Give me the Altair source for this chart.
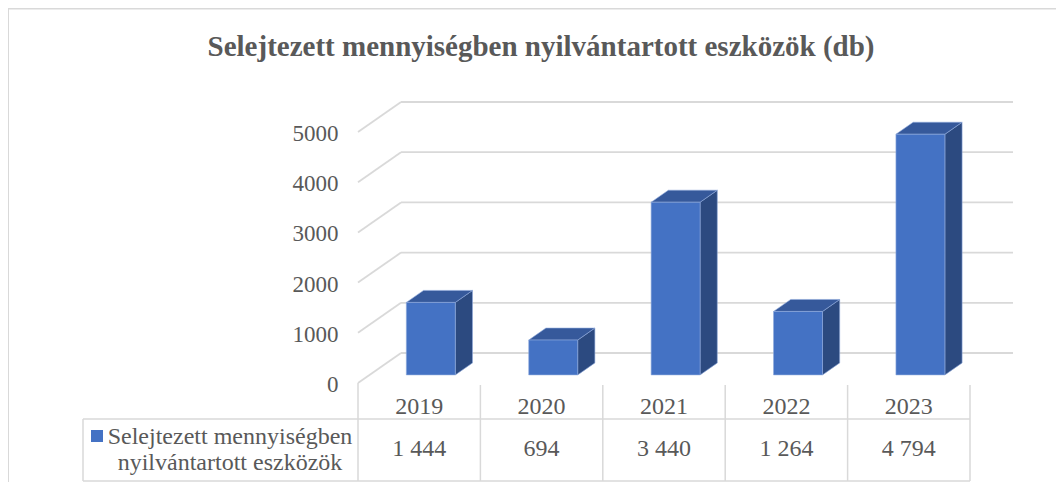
import altair as alt
import pandas as pd

# ---------------- data ----------------
years = ["2019", "2020", "2021", "2022", "2023"]
values = [1444, 694, 3440, 1264, 4794]
value_labels = ["1 444", "694", "3 440", "1 264", "4 794"]
y_ticks = [0, 1000, 2000, 3000, 4000, 5000]
series_lines = ["Selejtezett mennyiségben", "nyilvántartott eszközök"]
title_text = "Selejtezett mennyiségben nyilvántartott eszközök (db)"

# ---------------- layout / style constants ----------------
W, H = 1048, 474
PX_PER_CAT = 122.4          # pixels per category band
PX_PER_VAL = 0.0502         # pixels per value unit
X0_PX, Y0_PX = 350, 375     # chart-pixel position of front-plane origin
DU = 43 / PX_PER_CAT        # depth offset in category units
DV = 30 / PX_PER_VAL        # depth offset in value units
BAR_W = 0.4
F_FRONT, F_BACK = 0.27, 0.67

x_dom = [-X0_PX / PX_PER_CAT, (W - X0_PX) / PX_PER_CAT]
y_dom = [(Y0_PX - H) / PX_PER_VAL, Y0_PX / PX_PER_VAL]
XS = alt.Scale(domain=x_dom, range=[0, W], nice=False, zero=False)
YS = alt.Scale(domain=y_dom, range=[H, 0], nice=False, zero=False)

FONT = "Liberation Serif"
TXT = "#595959"
GRID = "#D9D9D9"
FRONT_C, TOP_C, SIDE_C = "#4472C4", "#36599B", "#2C4A80"
EDGE = "#8EA9DB"

def X(f, **kw):
    return alt.X(f, type="quantitative", scale=XS, axis=None, **kw)

def Y(f, **kw):
    return alt.Y(f, type="quantitative", scale=YS, axis=None, **kw)

# ---------------- geometry built from data ----------------
grid_rows = []
for k in y_ticks:
    grid_rows.append(dict(x=0, x2=DU, y=k, y2=k + DV))            # side wall diagonal
    grid_rows.append(dict(x=DU, x2=5 + DU, y=k + DV, y2=k + DV))  # back wall line
grid = pd.DataFrame(grid_rows)

front, side, top = [], [], []
for i, (yr, v) in enumerate(zip(years, values)):
    xl, xr = i + 0.5 - BAR_W / 2, i + 0.5 + BAR_W / 2
    front.append(dict(year=yr, x=xl + F_FRONT * DU, x2=xr + F_FRONT * DU,
                      y=F_FRONT * DV, y2=v + F_FRONT * DV))
    for f in (F_FRONT, F_BACK):
        side.append(dict(year=yr, x=xr + f * DU, y=f * DV, y2=v + f * DV))
        top.append(dict(year=yr, y=v + f * DV, x=xl + f * DU, x2=xr + f * DU))
front, side, top = pd.DataFrame(front), pd.DataFrame(side), pd.DataFrame(top)

# table geometry (value-unit levels below the floor)
V_HDR_TOP = -40
V_ROW_TOP = (Y0_PX - 411) / PX_PER_VAL
V_ROW_BOT = (Y0_PX - 473) / PX_PER_VAL
U_TABLE_LEFT = (75 - X0_PX) / PX_PER_CAT
table_rows = [dict(x=0, x2=0, y=0, y2=V_ROW_BOT)]
for c in range(1, 6):
    table_rows.append(dict(x=c, x2=c, y=V_HDR_TOP, y2=V_ROW_BOT))
table_rows += [
    dict(x=U_TABLE_LEFT, x2=5, y=V_ROW_TOP, y2=V_ROW_TOP),
    dict(x=U_TABLE_LEFT, x2=5, y=V_ROW_BOT, y2=V_ROW_BOT),
    dict(x=U_TABLE_LEFT, x2=U_TABLE_LEFT, y=V_ROW_TOP, y2=V_ROW_BOT),
]
table = pd.DataFrame(table_rows)

cells = pd.DataFrame(dict(
    x=[i + 0.5 for i in range(len(years))],
    year=years, label=value_labels,
    y_year=[(Y0_PX - 398.5) / PX_PER_VAL] * len(years),
    y_val=[(Y0_PX - 441) / PX_PER_VAL] * len(years),
))
ticks = pd.DataFrame(dict(v=y_ticks, x=[-0.16] * len(y_ticks)))
legend_txt = pd.DataFrame(dict(
    t=series_lines,
    x=[(222 - X0_PX) / PX_PER_CAT] * 2,
    y=[(Y0_PX - 429) / PX_PER_VAL, (Y0_PX - 455) / PX_PER_VAL],
))
legend_key = pd.DataFrame(dict(x=[(89 - X0_PX) / PX_PER_CAT], y=[(Y0_PX - 428) / PX_PER_VAL]))
title_df = pd.DataFrame(dict(t=[title_text], x=[(533 - X0_PX) / PX_PER_CAT],
                             y=[(Y0_PX - 39) / PX_PER_VAL]))

# ---------------- layers ----------------
frame = alt.Chart(pd.DataFrame(dict(a=[0]))).mark_rule(color=GRID, strokeWidth=2).encode(
    x=alt.value(0), x2=alt.value(W + 20), y=alt.value(0.5))
frame_l = alt.Chart(pd.DataFrame(dict(a=[0]))).mark_rule(color=GRID, strokeWidth=2).encode(
    x=alt.value(0), y=alt.value(0), y2=alt.value(H + 20))

grid_l = alt.Chart(grid).mark_rule(color=GRID, strokeWidth=1.8).encode(
    x=X("x"), x2="x2", y=Y("y"), y2="y2")
table_l = alt.Chart(table).mark_rule(color=GRID, strokeWidth=1.5).encode(
    x=X("x"), x2="x2", y=Y("y"), y2="y2")

side_l = alt.Chart(side).mark_area(color=SIDE_C, stroke=EDGE, strokeWidth=0.6, opacity=1).encode(
    x=X("x"), y=Y("y"), y2="y2", detail="year:N")
top_l = alt.Chart(top).mark_area(orient="horizontal", color=TOP_C, stroke=EDGE,
                                 strokeWidth=0.6, opacity=1).encode(
    y=Y("y"), x=X("x"), x2="x2", detail="year:N")
front_l = alt.Chart(front).mark_rect(color=FRONT_C, stroke=EDGE, strokeWidth=0.6).encode(
    x=X("x"), x2="x2", y=Y("y"), y2="y2")

tick_l = alt.Chart(ticks).mark_text(align="right", baseline="middle", font=FONT,
                                    fontSize=23, color=TXT, dy=2).encode(
    x=X("x"), y=Y("v"), text=alt.Text("v:Q", format="d"))
year_l = alt.Chart(cells).mark_text(align="center", baseline="middle", font=FONT,
                                    fontSize=24, color=TXT).encode(
    x=X("x"), y=Y("y_year"), text="year:N")
val_l = alt.Chart(cells).mark_text(align="center", baseline="middle", font=FONT,
                                   fontSize=24, color=TXT).encode(
    x=X("x"), y=Y("y_val"), text="label:N")
leg_t = alt.Chart(legend_txt).mark_text(align="center", baseline="middle", font=FONT,
                                        fontSize=24, color=TXT).encode(
    x=X("x"), y=Y("y"), text="t:N")
leg_k = alt.Chart(legend_key).mark_square(color=FRONT_C, size=144, opacity=1).encode(
    x=X("x"), y=Y("y"))
title_l = alt.Chart(title_df).mark_text(align="center", baseline="middle", font=FONT,
                                        fontSize=29, fontWeight="bold", color=TXT).encode(
    x=X("x"), y=Y("y"), text="t:N")

chart = alt.layer(
    frame, frame_l, grid_l, table_l, side_l, top_l, front_l,
    tick_l, year_l, val_l, leg_k, leg_t, title_l,
).properties(
    width=W, height=H, padding=0, autosize=alt.AutoSizeParams(type="none"),
    background="white",
).configure_view(stroke=None)

chart.save("out.html", embed_options={"renderer": "svg", "actions": False})
